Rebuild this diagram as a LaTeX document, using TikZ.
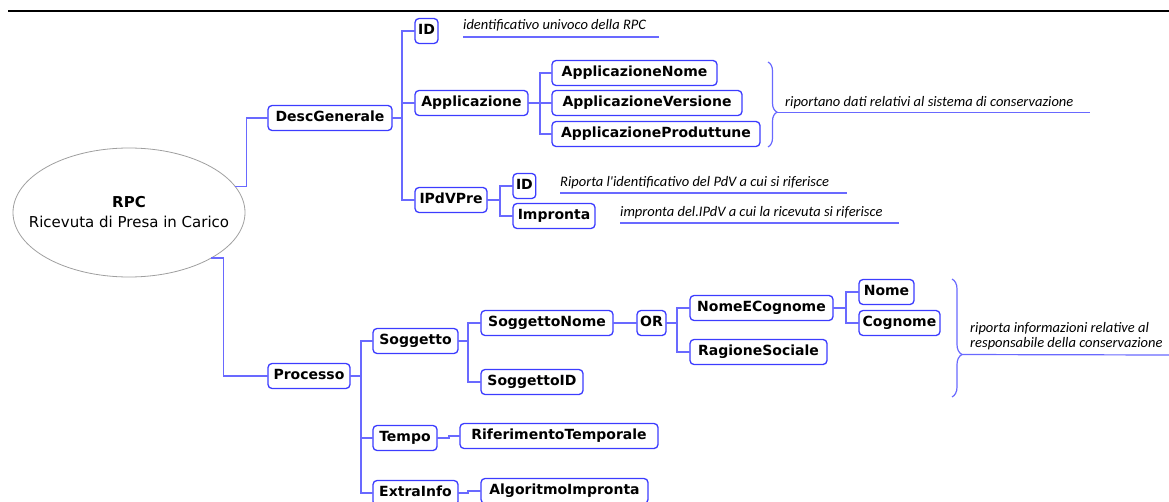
\documentclass[tikz,border=0pt]{standalone}
\usepackage{fontspec}
\setsansfont{DejaVu Sans}
\newfontfamily\notefont{Carlito}
\usetikzlibrary{shapes.geometric,positioning,decorations.pathreplacing,calc}

\definecolor{mapblue}{RGB}{60,60,255}
\definecolor{linkblue}{RGB}{105,105,255}

\begin{document}
\begin{tikzpicture}[
    x=1pt, y=-1pt,
    root/.style={ellipse, draw=gray!75, line width=0.8pt, minimum width=232pt, minimum height=129pt, inner sep=0pt, outer sep=0pt},
    field/.style={rectangle, draw=mapblue, line width=1.3pt, rounded corners=4pt, anchor=west, minimum height=25pt, inner xsep=3pt, inner ysep=0pt, outer sep=0pt, text height=10.5pt, text depth=3pt, font=\sffamily\bfseries\fontsize{14}{16}\selectfont},
    note/.style={anchor=base west, inner sep=0pt, align=left, font=\notefont\itshape\fontsize{14.5}{15}\selectfont},
    link/.style={draw=linkblue, line width=1.2pt},
    bracket/.style={draw=linkblue, line width=1.2pt, decorate}
]
\useasboundingbox (0,0) rectangle (1169,502);

% Page rule
\draw[line width=2pt] (8,11) -- (1169,11);

% Root
\node[root, label={[align=center, font=\sffamily\fontsize{15}{20}\selectfont]center:{\textbf{RPC}\\Ricevuta di Presa in Carico}}] (rpc) at (129,212.5) {};

% DescGenerale branch
\node[field, minimum width=124pt] (desc_gen) at (268,118) {DescGenerale};
\node[field, minimum width=23pt] (id_rpc) at (415,31) {ID};
\node[field, minimum width=113pt] (applicazione) at (415,103) {Applicazione};
\node[field, minimum width=72pt] (ipdv_pre) at (415,200) {IPdVPre};
\node[field, minimum width=165pt] (app_nome) at (552,73) {ApplicazioneNome};
\node[field, minimum width=190pt] (app_versione) at (552,103) {ApplicazioneVersione};
\node[field, minimum width=208pt] (app_produttore) at (552,134) {ApplicazioneProduttune};
\node[field, minimum width=22pt] (id_pdv) at (513,186) {ID};
\node[field, minimum width=82pt] (impronta) at (513,216) {Impronta};

% Processo branch
\node[field, minimum width=82pt] (processo) at (268,376) {Processo};
\node[field, minimum width=85pt] (soggetto) at (373,341) {Soggetto};
\node[field, minimum width=64pt] (tempo) at (373,438) {Tempo};
\node[field, minimum width=85pt] (extra_info) at (373,493) {ExtraInfo};
\node[field, minimum width=132pt] (sogg_nome) at (481,323) {SoggettoNome};
\node[field, minimum width=102pt] (sogg_id) at (481,382) {SoggettoID};
\node[field, minimum width=198pt] (rif_temp) at (460,436) {RiferimentoTemporale};
\node[field, minimum width=167pt] (algo_impronta) at (481,491) {AlgoritmoImpronta};
\node[field, minimum width=29pt] (or_choice) at (637,323) {OR};
\node[field, minimum width=143pt] (nome_cognome) at (690,308) {NomeECognome};
\node[field, minimum width=137pt] (ragione_sociale) at (690,352) {RagioneSociale};
\node[field, minimum width=55pt] (nome) at (859,292) {Nome};
\node[field, minimum width=81pt] (cognome) at (859,323) {Cognome};

% Connectors
\draw[link] (rpc.14) -- ++(12,0) |- (desc_gen.west);
\draw[link] (rpc.-29) -- ++(12,0) |- (processo.west);
\foreach \leaf in {id_rpc, applicazione, ipdv_pre}
    \draw[link] (desc_gen.east) -- ++(10,0) |- (\leaf.west);
\foreach \leaf in {app_nome, app_versione, app_produttore}
    \draw[link] (applicazione.east) -- ++(12,0) |- (\leaf.west);
\foreach \leaf in {id_pdv, impronta}
    \draw[link] (ipdv_pre.east) -- ++(13,0) |- (\leaf.west);
\foreach \leaf in {soggetto, tempo, extra_info}
    \draw[link] (processo.east) -- ++(11,0) |- (\leaf.west);
\foreach \leaf in {sogg_nome, sogg_id}
    \draw[link] (soggetto.east) -- ++(10,0) |- (\leaf.west);
\draw[link] (tempo.east) -- ++(12,0) |- (rif_temp.west);
\draw[link] (extra_info.east) -- ++(10,0) |- (algo_impronta.west);
\draw[link] (sogg_nome.east) -- ++(10,0) |- (or_choice.west);
\foreach \leaf in {nome_cognome, ragione_sociale}
    \draw[link] (or_choice.east) -- ++(11,0) |- (\leaf.west);
\foreach \leaf in {nome, cognome}
    \draw[link] (nome_cognome.east) -- ++(13,0) |- (\leaf.west);

% Notes
\node[note] (note_rpc_id) at (463,30) {identificativo univoco della RPC};
\draw[link] ([yshift=-7pt]note_rpc_id.base west) -- ++(196,0);
\node[note] (note_pdv_id) at (560,187) {Riporta l'identificativo del PdV a cui si riferisce};
\draw[link] ([yshift=-6pt]note_pdv_id.base west) -- ++(287,0);
\node[note] (note_impronta) at (620,217) {impronta del.IPdV a cui la ricevuta si riferisce};
\draw[link] ([yshift=-6pt]note_impronta.base west) -- ++(279,0);

% Braces
\coordinate (app_top) at (768,62);
\coordinate (app_bot) at (768,147);
\draw[bracket, decoration={brace, amplitude=9pt, aspect=0.59}] (app_top) -- (app_bot);
\draw[link] ($(app_top)!0.59!(app_bot)+(9,0)$) -- ++(313,0);
\node[note] (note_app) at (785,107) {riportano dati relativi al sistema di conservazione};

\coordinate (resp_top) at (952,279);
\coordinate (resp_bot) at (952,397);
\draw[bracket, decoration={brace, amplitude=10pt, aspect=0.64}] (resp_top) -- (resp_bot);
\draw[link] ($(resp_top)!0.64!(resp_bot)+(10,0)$) -- (1169,355);
\node[note] (note_resp) at (970,348) {riporta informazioni relative al\\responsabile della conservazione};

\end{tikzpicture}
\end{document}
